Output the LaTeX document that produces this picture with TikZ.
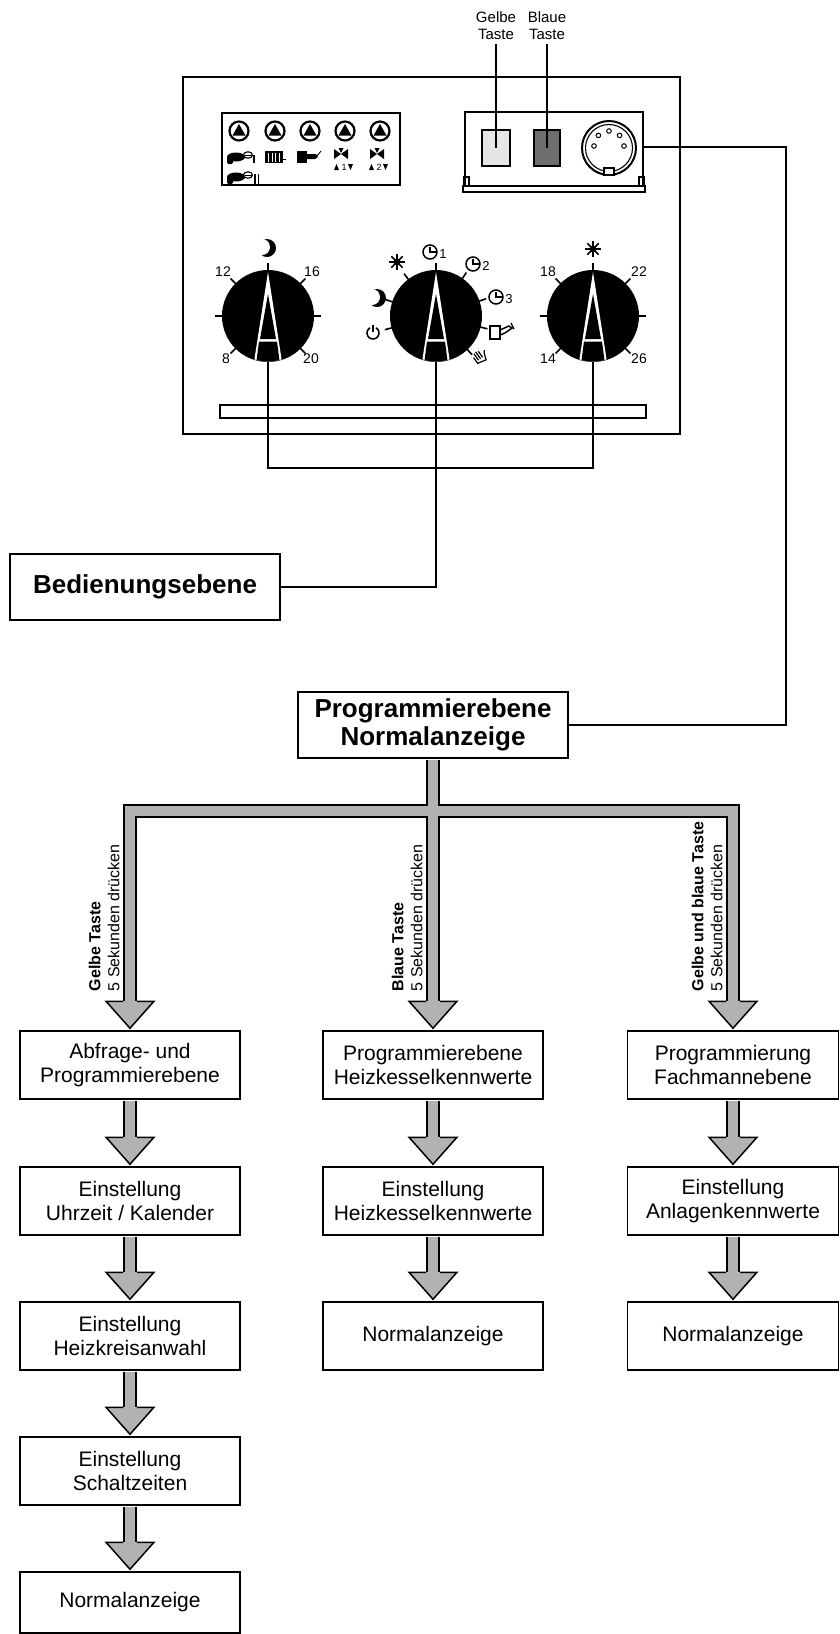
\documentclass[tikz,border=0pt]{standalone}
\usepackage{fontspec}
\setmainfont{Liberation Sans}
\usetikzlibrary{calc}
\definecolor{pipe}{RGB}{178,178,178}
\definecolor{ylw}{RGB}{230,230,230}
\definecolor{blu}{RGB}{110,110,110}
\tikzset{
  box/.style={draw, line width=1.5pt, minimum width=220pt, minimum height=68pt, align=center, inner sep=0pt, font=\fontsize{21}{24}\selectfont},
  bigbox/.style={draw, line width=1.5pt, minimum width=270pt, minimum height=66pt, align=center, inner sep=0pt, font=\bfseries\fontsize{26}{28}\selectfont},
  lbl/.style={rotate=90, anchor=south west, align=left, inner sep=0pt, font=\fontsize{16}{19}\selectfont},
  num/.style={inner sep=0pt, font=\fontsize{14}{14}\selectfont},
  small/.style={inner sep=0pt, font=\fontsize{13}{13}\selectfont},
  tiny/.style={inner sep=0pt, font=\fontsize{9}{9}\selectfont},
  tlbl/.style={inner sep=0pt, align=center, font=\fontsize{15}{17}\selectfont},
  btn/.style={draw, line width=1.5pt, minimum height=36pt, inner sep=0pt},
  conn/.style={line width=1.8pt},
  tick/.style={line width=1.6pt},
  pump/.pic={\draw[line width=2.2pt] (0,0) circle (9.5); \fill (0,-7) -- (-6.5,4.5) -- (6.5,4.5) -- cycle;},
  burner/.pic={\fill (0,0) ellipse (9 and 4.5);
    \fill[rounded corners=1.5pt] (-9,-1) rectangle (-3,7);
    \draw[line width=1.1pt] (12,-2) ellipse (4.5 and 3.2);
    \draw[line width=0.9pt] (8.5,-2) -- (16,-2);},
  valve/.pic={\fill (-7,-5) -- (0,0) -- (-7,5) -- cycle; \fill (7,-5) -- (0,0) -- (7,5) -- cycle;
    \fill (-2.5,-6) -- (2.5,-6) -- (0,-1) -- cycle;},
  knob/.pic={\fill (0,0) circle (46);
    \begin{scope}
      \clip (0,0) circle (45.5);
      \fill[white] (0,-44) -- (-14,46) -- (14,46) -- cycle;
      \fill (0,-22) -- (-8,23) -- (8,23) -- cycle;
      \fill (-9,25.5) -- (9,25.5) -- (11.8,47) -- (-11.8,47) -- cycle;
    \end{scope}},
  sun/.pic={\fill (0,0) circle (3.5);
    \foreach \a in {0,45,...,315} \draw[line width=1.5pt] (\a:3) -- (\a:8);},
  moon/.pic={\fill (0,0) circle (9); \fill[white] (-5,-1) circle (8);},
  clock/.pic={\draw[line width=1.5pt] (0,0) circle (7); \draw[line width=1.5pt] (0,-5.5) -- (0,0) -- (5.5,0);},
  power/.pic={\draw[line width=1.6pt] (-120:6) arc[start angle=-120, end angle=-420, radius=6];
    \draw[line width=1.6pt] (0,-8.5) -- (0,-1.5);},
  ahead/.pic={\fill[pipe] (-24,-27) -- (0,0) -- (24,-27) -- cycle;
    \draw[line width=1.5pt] (-6.75,-27) -- (-24,-27) -- (0,0) -- (24,-27) -- (6.75,-27);}
}
\newcommand\garrow[2]{%
  \draw[line width=13.5pt] ($(#1)+(0,0.75)$) -- ($(#2)+(0,-29)$);
  \draw[line width=10.5pt, pipe] ($(#1)+(0,0.75)$) -- ($(#2)+(0,-28)$);
  \pic at ($(#2)+(0,-2)$) {ahead};}
\begin{document}
\begin{tikzpicture}[x=1pt,y=-1pt,line join=miter]
\useasboundingbox (0,0) rectangle (840,1634);
\fill[white] (0,0) rectangle (840,1634);

% ---------- control panel ----------
\draw[line width=2pt] (183,77) rectangle (680,434);
\draw[line width=1.8pt] (220,405) rectangle (646,418);

% indicator display
\draw[line width=2pt] (222,113) rectangle (400,185);
\foreach \x in {239,275,310,345,380} \pic at (\x,131) {pump};
\pic at (236,157) {burner};
\draw[line width=1.2pt] (254,155) -- (254,163);
\pic at (236,177) {burner};
\draw[line width=1.1pt] (255,174) -- (255,184) (258.5,174) -- (258.5,184);
\fill (265,151) rectangle (283,163);
\foreach \x in {268.5,272,275.5,279} \draw[white, line width=0.9pt] (\x,152.5) -- (\x,161.5);
\draw[line width=1pt] (283,159) -- (286,159);
\fill (297,151) rectangle (307,163);
\fill (307,154) -- (316,154) -- (318,157) -- (315,159) -- (307,159) -- cycle;
\draw[line width=0.9pt] (317,156) -- (321,151);
\pic at (341,154) {valve};
\pic at (377,154) {valve};
\fill (334,170) -- (336.5,164) -- (339,170) -- cycle;
\node[tiny] (v1) at (344,167) {1};
\fill (348,164) -- (353,164) -- (350.5,170) -- cycle;
\fill (369,170) -- (371.5,164) -- (374,170) -- cycle;
\node[tiny] (v2) at (379,167) {2};
\fill (383,164) -- (388,164) -- (385.5,170) -- cycle;

% button box
\draw[line width=1.8pt] (465,112) rectangle (643,186);
\draw[line width=1.5pt] (463,186) rectangle (645,192);
\draw[line width=1.2pt] (464,177) rectangle (469,186);
\draw[line width=1.2pt] (639,177) rectangle (644,186);
\node[btn, fill=ylw, minimum width=28pt] (yb) at (496,148) {};
\node[btn, fill=blu, minimum width=26pt] (bb) at (547,148) {};
\draw[line width=2pt] (609,148) circle (27);
\draw[line width=1.1pt] (609,148) circle (23.5);
\foreach \a in {0,45,90,135,180} \draw[line width=1pt] ($(609,146)+(-\a:15)$) circle (2.3);
\draw[line width=1.2pt, fill=white] (604,168) rectangle (614,175);
\node[tlbl] (gt) at (496,26) {Gelbe\\Taste};
\node[tlbl] (bt) at (547,26) {Blaue\\Taste};
\draw[line width=1.5pt] ($(gt.south)+(0,4)$) -- (yb.center);
\draw[line width=1.5pt] ($(bt.south)+(0,4)$) -- (bb.center);

% knobs
\coordinate (k1) at (268,316);
\coordinate (k2) at (436,316);
\coordinate (k3) at (593,316);
\coordinate (k1b) at (268,362);
\coordinate (k2b) at (436,362);
\coordinate (k3b) at (593,362);
\pic at (k1) {knob};
\pic at (k2) {knob};
\pic at (k3) {knob};
\begin{scope}[shift={(k1)}]
  \foreach \a in {-90,-45,-135,0,180,-225,-315} \draw[tick] (\a:45) -- (\a:53);
\end{scope}
\begin{scope}[shift={(k3)}]
  \foreach \a in {-90,-45,-135,0,180,-225,-315} \draw[tick] (\a:45) -- (\a:53);
\end{scope}
\begin{scope}[shift={(k2)}]
  \foreach \a in {-90,-55,-19,14,47,-127,-162,-195} \draw[tick] (\a:45) -- (\a:53);
\end{scope}
\pic at (267,248) {moon};
\node[num] (n12) at (223,272) {12};
\node[num] (n16) at (312,272) {16};
\node[num] (n8) at (226,359) {8};
\node[num] (n20) at (311,359) {20};
\pic at (593,249) {sun};
\node[num] (n18) at (548,272) {18};
\node[num] (n22) at (639,272) {22};
\node[num] (n14) at (548,359) {14};
\node[num] (n26) at (639,359) {26};
\pic at (397,262) {sun};
\pic at (377,298) {moon};
\pic at (373,333) {power};
\pic at (430,252) {clock};
\node[small] (c1n) at (443,254) {1};
\pic at (473,264) {clock};
\node[small] (c2n) at (486,266) {2};
\pic at (496,297) {clock};
\node[small] (c3n) at (509,299) {3};
\draw[line width=1.5pt] (490,326) rectangle (500,339);
\draw[line width=1.5pt] (500,330) -- (509,326) -- (512,328) -- (505,333) -- (500,335);
\draw[line width=1.2pt] (511,323) -- (514,329);
\begin{scope}[shift={(480,358)}, rotate=35]
  \draw[line width=1.2pt] (-5,-4) -- (-5,3) -- (4,5) -- (6,-1) -- (8,-4);
  \draw[line width=1.2pt] (-2.5,-7) -- (-2.5,1) (0,-7.5) -- (0,1) (2.5,-6.5) -- (2.5,1);
\end{scope}

% ---------- boxes ----------
\node[bigbox] (bed) at (145,587) {Bedienungsebene};
\node[bigbox] (pbox) at (433,725) {Programmierebene\\Normalanzeige};

\node[box] (a1) at (130,1065) {Abfrage- und\\Programmierebene};
\node[box] (a2) at (130,1201) {Einstellung\\Uhrzeit / Kalender};
\node[box] (a3) at (130,1336) {Einstellung\\Heizkreisanwahl};
\node[box] (a4) at (130,1471) {Einstellung\\Schaltzeiten};
\node[box, minimum height=61pt] (a5) at (130,1602.5) {Normalanzeige};

\node[box] (b1) at (433,1065) {Programmierebene\\Heizkesselkennwerte};
\node[box] (b2) at (433,1201) {Einstellung\\Heizkesselkennwerte};
\node[box] (b3) at (433,1336) {Normalanzeige};

\node[box, minimum width=211pt] (c1) at (733,1065) {Programmierung\\Fachmannebene};
\node[box, minimum width=211pt] (c2) at (733,1201) {Einstellung\\Anlagenkennwerte};
\node[box, minimum width=211pt] (c3) at (733,1336) {Normalanzeige};

% ---------- grey pipe network ----------
\coordinate (tL) at ($(a1.north)+(0,-29)$);
\coordinate (tM) at ($(b1.north)+(0,-29)$);
\coordinate (tR) at ($(c1.north)+(0,-29)$);
\coordinate (barL) at (130,811);
\coordinate (barR) at (733,811);
\draw[line width=13.5pt] (tL) -- (barL) -- (barR) -- (tR);
\draw[line width=13.5pt] ($(pbox.south)+(0,0.75)$) -- (tM);
\draw[line width=10.5pt, pipe] ($(tL)+(0,1)$) -- (barL) -- (barR) -- ($(tR)+(0,1)$);
\draw[line width=10.5pt, pipe] ($(pbox.south)+(0,0.75)$) -- ($(tM)+(0,1)$);
\pic at ($(a1.north)+(0,-2)$) {ahead};
\pic at ($(b1.north)+(0,-2)$) {ahead};
\pic at ($(c1.north)+(0,-2)$) {ahead};

\node[lbl] (l1) at ($(tL)+(-10.25,-10)$) {\bfseries Gelbe Taste\\5 Sekunden drücken};
\node[lbl] (l2) at ($(tM)+(-10.25,-10)$) {\bfseries Blaue Taste\\5 Sekunden drücken};
\node[lbl] (l3) at ($(tR)+(-10.25,-10)$) {\bfseries Gelbe und blaue Taste\\5 Sekunden drücken};

\garrow{a1.south}{a2.north}
\garrow{a2.south}{a3.north}
\garrow{a3.south}{a4.north}
\garrow{a4.south}{a5.north}
\garrow{b1.south}{b2.north}
\garrow{b2.south}{b3.north}
\garrow{c1.south}{c2.north}
\garrow{c2.south}{c3.north}

% ---------- thin connectors ----------
\coordinate (jn) at (436,468);
\draw[conn] (k1b) |- (jn) -| (k3b);
\draw[conn] (k2b) |- (bed.east);
\coordinate (sk) at (643,147);
\coordinate (rc) at (786,147);
\draw[conn] (sk) -- (rc) |- (pbox.east);
\end{tikzpicture}
\end{document}
